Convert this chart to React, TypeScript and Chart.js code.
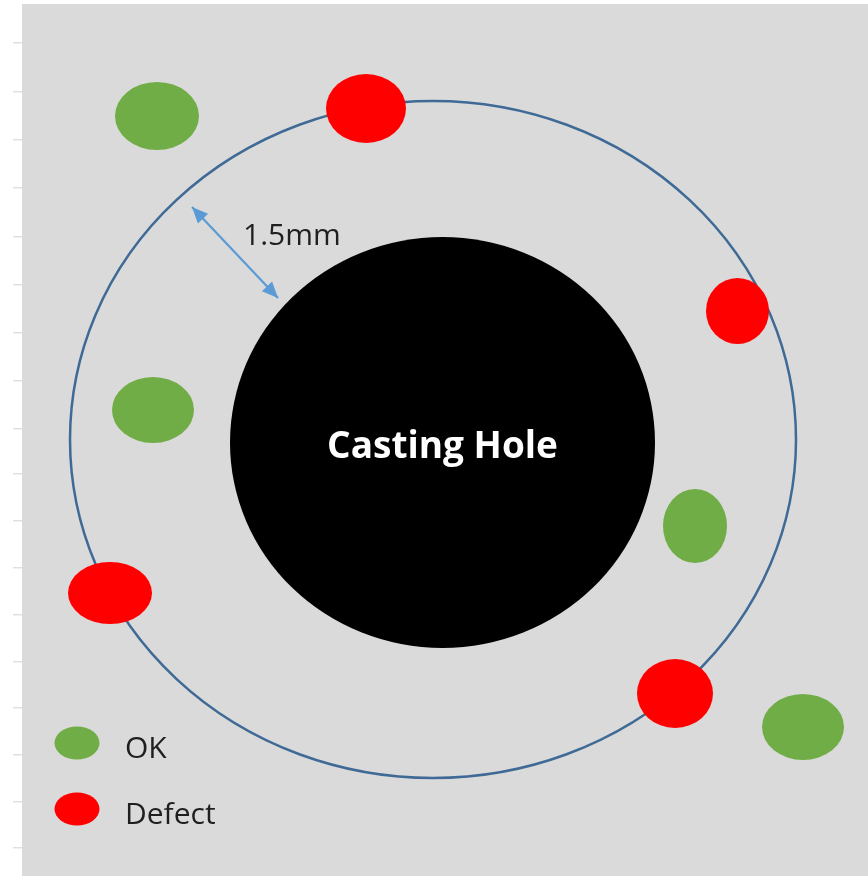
import React, { useEffect, useRef } from "react";
import { Chart, registerables } from "chart.js";

Chart.register(...registerables);

// ---- Data (diagram units) ----
const xRange = [22, 868];
const yRange = [4, 876];
const yTickValues = [43, 92, 140, 188, 237, 285, 333, 381, 429, 474, 521, 568, 615, 662, 708, 755, 802, 848];

const seriesLabels = ["OK", "Defect"];

const okX = [157, 153, 695, 803];
const okY = [116, 410, 526, 727];
const okRx = [42, 41, 32, 41];
const okRy = [34, 33, 37, 33];

const defectX = [366, 737.5, 110, 675];
const defectY = [108.5, 311, 593, 693.5];
const defectRx = [40, 31.5, 42, 38];
const defectRy = [34.5, 33, 31, 34.5];

const holeCenter = [442.5, 442.5];
const holeRadii = [212.5, 205.5];
const holeLabel = "Casting Hole";

const ringCenter = [433, 439.5];
const ringRadii = [363, 338.5];

const arrowX = [192, 278];
const arrowY = [207, 298];
const dimensionLabel = "1.5mm";
const dimensionLabelPos = [243, 245];

// ---- Styles ----
const OK_COLOR = "#70AD47";
const DEFECT_COLOR = "#FF0000";
const RING_COLOR = "#3F6A96";
const ARROW_COLOR = "#5B9BD5";
const BG_COLOR = "#DADADA";
const TEXT_COLOR = "#1f1f1f";

type EPoint = { x: number; y: number; rx: number; ry: number };

function toPoints(xs: number[], ys: number[], rxs: number[], rys: number[]): EPoint[] {
  return xs.map((x, i) => ({ x, y: ys[i], rx: rxs[i], ry: rys[i] }));
}

function ellipsePx(chart: any, p: EPoint) {
  const xs = chart.scales.x;
  const ys = chart.scales.y;
  const cx = xs.getPixelForValue(p.x);
  const cy = ys.getPixelForValue(p.y);
  const rx = Math.abs(xs.getPixelForValue(p.x + p.rx) - cx);
  const ry = Math.abs(ys.getPixelForValue(p.y + p.ry) - cy);
  return { cx, cy, rx, ry };
}

const diagramPlugin = {
  id: "diagram",
  beforeDraw(chart: any) {
    const { ctx, chartArea } = chart;
    ctx.save();
    ctx.fillStyle = BG_COLOR;
    ctx.fillRect(chartArea.left, chartArea.top, chartArea.right - chartArea.left, chartArea.bottom - chartArea.top);
    ctx.restore();
  },
  beforeDatasetsDraw(chart: any) {
    const { ctx } = chart;
    const xs = chart.scales.x;
    const ys = chart.scales.y;
    ctx.save();
    // ring
    const r = ellipsePx(chart, { x: ringCenter[0], y: ringCenter[1], rx: ringRadii[0], ry: ringRadii[1] });
    ctx.beginPath();
    ctx.ellipse(r.cx, r.cy, r.rx, r.ry, 0, 0, Math.PI * 2);
    ctx.strokeStyle = RING_COLOR;
    ctx.lineWidth = 2.5;
    ctx.stroke();
    // hole
    const h = ellipsePx(chart, { x: holeCenter[0], y: holeCenter[1], rx: holeRadii[0], ry: holeRadii[1] });
    ctx.beginPath();
    ctx.ellipse(h.cx, h.cy, h.rx, h.ry, 0, 0, Math.PI * 2);
    ctx.fillStyle = "#000000";
    ctx.fill();
    // hole label
    ctx.fillStyle = "#ffffff";
    ctx.font = "bold 37px 'Open Sans', sans-serif";
    ctx.textAlign = "center";
    ctx.textBaseline = "alphabetic";
    ctx.fillText(holeLabel, xs.getPixelForValue(holeCenter[0]), ys.getPixelForValue(458));
    ctx.restore();
  },
  afterDatasetsDraw(chart: any) {
    const { ctx } = chart;
    const xs = chart.scales.x;
    const ys = chart.scales.y;
    ctx.save();
    // arrow heads
    const ax0 = xs.getPixelForValue(arrowX[0]);
    const ay0 = ys.getPixelForValue(arrowY[0]);
    const ax1 = xs.getPixelForValue(arrowX[1]);
    const ay1 = ys.getPixelForValue(arrowY[1]);
    const ang = Math.atan2(ay1 - ay0, ax1 - ax0);
    const head = (tx: number, ty: number, a: number) => {
      const len = 16;
      const half = 7;
      const bx = tx - Math.cos(a) * len;
      const by = ty - Math.sin(a) * len;
      ctx.beginPath();
      ctx.moveTo(tx, ty);
      ctx.lineTo(bx + Math.sin(a) * half, by - Math.cos(a) * half);
      ctx.lineTo(bx - Math.sin(a) * half, by + Math.cos(a) * half);
      ctx.closePath();
      ctx.fillStyle = ARROW_COLOR;
      ctx.fill();
    };
    head(ax1, ay1, ang);
    head(ax0, ay0, ang + Math.PI);
    // dimension label
    ctx.fillStyle = TEXT_COLOR;
    ctx.font = "30px 'Open Sans', sans-serif";
    ctx.textAlign = "left";
    ctx.textBaseline = "alphabetic";
    ctx.fillText(dimensionLabel, xs.getPixelForValue(dimensionLabelPos[0]), ys.getPixelForValue(dimensionLabelPos[1]));
    // ellipse markers
    chart.data.datasets.forEach((ds: any) => {
      if (!ds.ellipse) return;
      ds.data.forEach((p: EPoint) => {
        const e = ellipsePx(chart, p);
        ctx.beginPath();
        ctx.ellipse(e.cx, e.cy, e.rx, e.ry, 0, 0, Math.PI * 2);
        ctx.fillStyle = ds.backgroundColor;
        ctx.fill();
      });
    });
    ctx.restore();
  },
  afterDraw(chart: any) {
    const { ctx, chartArea } = chart;
    ctx.save();
    const items = chart.data.datasets.filter((d: any) => d.ellipse);
    items.forEach((ds: any, i: number) => {
      const cy = chartArea.bottom - 133 + i * 66;
      ctx.beginPath();
      ctx.ellipse(chartArea.left + 55, cy, 22.5, 16.5, 0, 0, Math.PI * 2);
      ctx.fillStyle = ds.backgroundColor;
      ctx.fill();
      ctx.fillStyle = TEXT_COLOR;
      ctx.font = "30px 'Open Sans', sans-serif";
      ctx.textAlign = "left";
      ctx.textBaseline = "alphabetic";
      ctx.fillText(ds.label, chartArea.left + 103, cy + 15);
    });
    ctx.restore();
  },
};

export default function App() {
  const canvasRef = useRef<HTMLCanvasElement | null>(null);

  useEffect(() => {
    if (!canvasRef.current) return;
    const chart = new Chart(canvasRef.current, {
      type: "scatter",
      data: {
        datasets: [
          {
            type: "line",
            label: "dimension",
            data: arrowX.map((x, i) => ({ x, y: arrowY[i] })),
            borderColor: ARROW_COLOR,
            borderWidth: 2.2,
            pointRadius: 0,
            showLine: true,
            fill: false,
          } as any,
          {
            label: seriesLabels[0],
            ellipse: true,
            data: toPoints(okX, okY, okRx, okRy),
            backgroundColor: OK_COLOR,
            pointRadius: 0,
          } as any,
          {
            label: seriesLabels[1],
            ellipse: true,
            data: toPoints(defectX, defectY, defectRx, defectRy),
            backgroundColor: DEFECT_COLOR,
            pointRadius: 0,
          } as any,
        ],
      },
      options: {
        animation: false,
        responsive: true,
        maintainAspectRatio: false,
        layout: { padding: { left: 13, top: 4, right: 0, bottom: 0 } },
        plugins: {
          legend: { display: false },
          tooltip: { enabled: false },
          title: { display: false },
        },
        events: [],
        scales: {
          x: {
            type: "linear",
            display: false,
            min: xRange[0],
            max: xRange[1],
          },
          y: {
            type: "linear",
            display: true,
            reverse: true,
            min: yRange[0],
            max: yRange[1],
            afterBuildTicks: (scale: any) => {
              scale.ticks = yTickValues.map((v) => ({ value: v }));
            },
            ticks: { display: false },
            grid: {
              drawOnChartArea: false,
              drawTicks: true,
              tickLength: 9,
              color: "#e0e0e0",
              lineWidth: 1.5,
            },
            border: { display: false },
          },
        },
      },
      plugins: [diagramPlugin],
    });
    return () => chart.destroy();
  }, []);

  return (
    <div style={{ position: "absolute", left: 0, top: 0, width: 868, height: 876, background: "#ffffff" }}>
      <canvas ref={canvasRef} />
    </div>
  );
}
